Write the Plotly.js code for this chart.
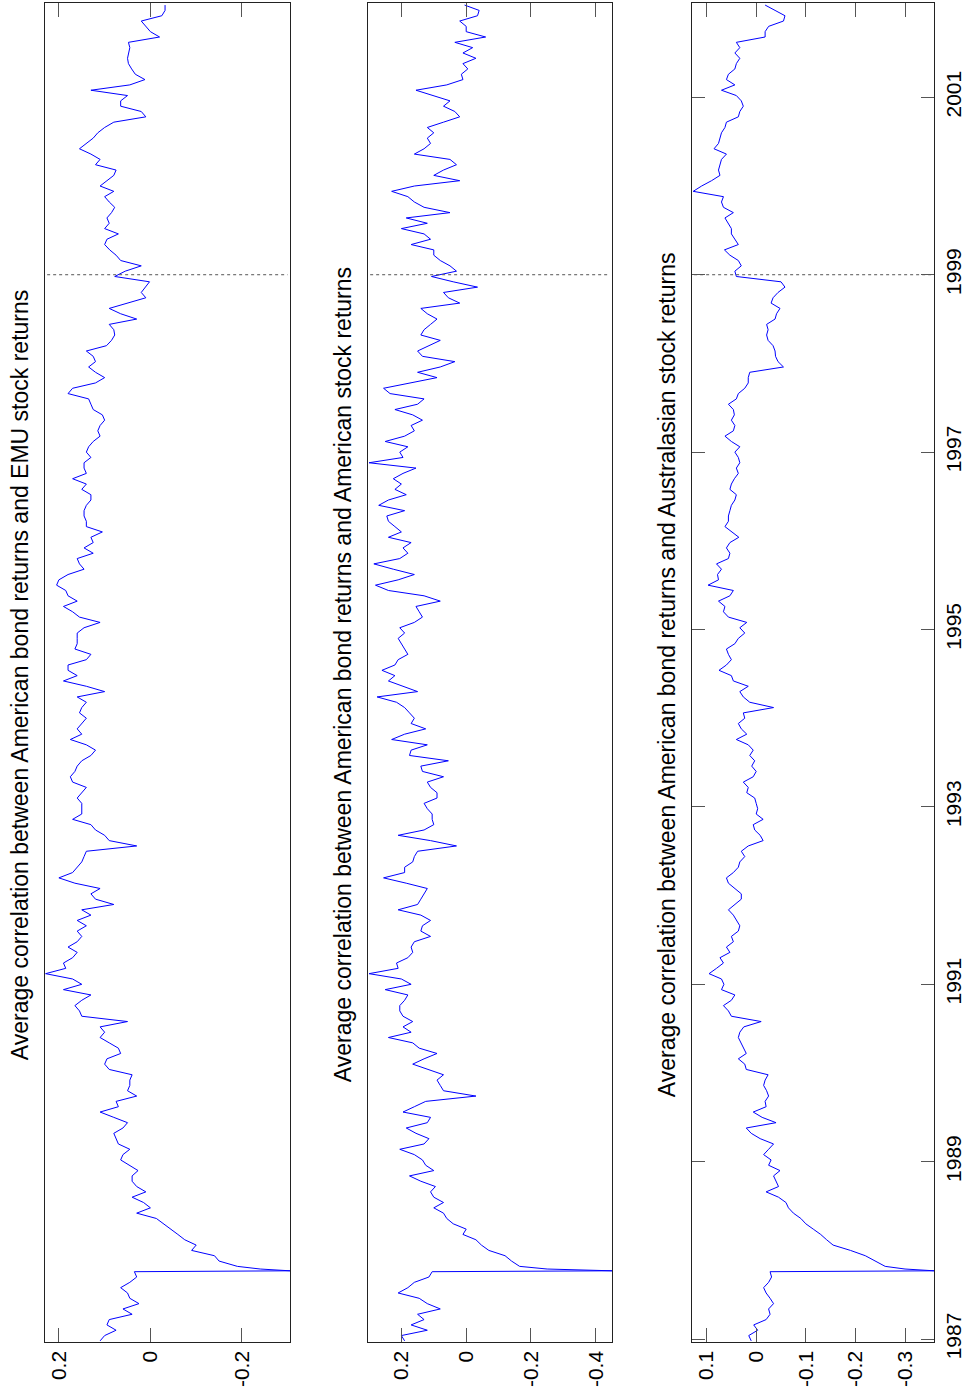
<!DOCTYPE html>
<html>
<head>
<meta charset="utf-8">
<script src="https://cdn.plot.ly/plotly-3.0.1.min.js"></script>
<style>
html, body { margin: 0; padding: 0; background: #fff; overflow: hidden; }
#chart { width: 970px; height: 1396px; }
</style>
</head>
<body>
<div id="chart"></div>
<script>
// Shared time axis (decimal years)
const years = [
 1986.98, 1987.04, 1987.10, 1987.16, 1987.22, 1987.28, 1987.34, 1987.40, 1987.46, 1987.52, 1987.58, 1987.64, 1987.70, 1987.76,
 1987.77, 1987.79,
 1987.82, 1987.88, 1987.94, 1988.00, 1988.06, 1988.12, 1988.18, 1988.24, 1988.30, 1988.36,
 1988.42, 1988.48, 1988.54, 1988.60, 1988.66, 1988.72, 1988.78, 1988.84, 1988.90, 1988.96,
 1989.02, 1989.08, 1989.14, 1989.20, 1989.26, 1989.32, 1989.38, 1989.44, 1989.50, 1989.56,
 1989.62, 1989.68, 1989.74, 1989.80, 1989.86, 1989.92, 1989.98, 1990.04, 1990.10, 1990.16,
 1990.22, 1990.28, 1990.34, 1990.40, 1990.46, 1990.52, 1990.58, 1990.64, 1990.70, 1990.76,
 1990.82, 1990.88, 1990.94, 1991.00, 1991.06, 1991.12, 1991.18, 1991.24, 1991.30, 1991.36,
 1991.42, 1991.48, 1991.54, 1991.60, 1991.66, 1991.72, 1991.78, 1991.84, 1991.90, 1991.96,
 1992.02, 1992.08, 1992.14, 1992.20, 1992.26, 1992.32, 1992.38, 1992.44, 1992.50, 1992.56,
 1992.62, 1992.68, 1992.74, 1992.80, 1992.86, 1992.92, 1992.98, 1993.04, 1993.10, 1993.16,
 1993.22, 1993.28, 1993.34, 1993.40, 1993.46, 1993.52, 1993.58, 1993.64, 1993.70, 1993.76,
 1993.82, 1993.88, 1993.94, 1994.00, 1994.06, 1994.12, 1994.18, 1994.24, 1994.30, 1994.36,
 1994.42, 1994.48, 1994.54,
 1994.60, 1994.66, 1994.72, 1994.78, 1994.84, 1994.90, 1994.96, 1995.02, 1995.08, 1995.14,
 1995.20, 1995.26, 1995.32, 1995.38, 1995.44, 1995.50, 1995.56, 1995.62, 1995.68, 1995.74,
 1995.80, 1995.86, 1995.92, 1995.98, 1996.04, 1996.10, 1996.16, 1996.22, 1996.28, 1996.34,
 1996.40, 1996.46, 1996.52, 1996.58, 1996.64, 1996.70, 1996.76, 1996.82, 1996.88, 1996.94,
 1997.00, 1997.06, 1997.12, 1997.18, 1997.24, 1997.30, 1997.36, 1997.42, 1997.48, 1997.54,
 1997.60, 1997.66, 1997.72, 1997.78, 1997.84, 1997.90, 1997.96, 1998.02, 1998.08, 1998.14,
 1998.20, 1998.26, 1998.32,
 1998.38, 1998.44, 1998.50, 1998.56, 1998.62, 1998.68, 1998.74, 1998.80, 1998.86, 1998.92,
 1998.98, 1999.04, 1999.10, 1999.16, 1999.22, 1999.28, 1999.34, 1999.40, 1999.46, 1999.52,
 1999.58, 1999.64, 1999.70, 1999.76, 1999.82, 1999.88, 1999.94, 2000.00, 2000.06, 2000.12,
 2000.18, 2000.24, 2000.30, 2000.36, 2000.42, 2000.48, 2000.54, 2000.60, 2000.66, 2000.72,
 2000.78, 2000.84, 2000.90, 2000.96, 2001.02, 2001.08, 2001.14, 2001.20, 2001.26, 2001.32,
 2001.38, 2001.44, 2001.50, 2001.56, 2001.62, 2001.68, 2001.74, 2001.80, 2001.86, 2001.92,
 2001.98, 2002.04
];

// Average correlation: American bonds vs EMU stocks
const emuCorr = [
 0.11, 0.10, 0.075, 0.095, 0.09, 0.04, 0.06, 0.025, 0.045, 0.05, 0.065, 0.045, 0.03, 0.035,
 -0.305, -0.24,
 -0.19, -0.15, -0.14, -0.09, -0.10, -0.075, -0.06, -0.045, -0.03, -0.013,
 0.03, 0.0, 0.015, 0.04, 0.01, 0.03, 0.04, 0.04, 0.027, 0.045,
 0.065, 0.06, 0.045, 0.07, 0.075, 0.08, 0.06, 0.05, 0.08, 0.11,
 0.07, 0.075, 0.03, 0.05, 0.045, 0.045, 0.04, 0.09, 0.10, 0.095,
 0.065, 0.07, 0.09, 0.11, 0.10, 0.11, 0.05, 0.15, 0.155, 0.165,
 0.15, 0.13, 0.19, 0.15, 0.17, 0.229, 0.185, 0.19, 0.17, 0.16,
 0.18, 0.16, 0.15, 0.16, 0.14, 0.16, 0.13, 0.15, 0.08, 0.12,
 0.13, 0.11, 0.165, 0.20, 0.17, 0.16, 0.15, 0.145, 0.14, 0.03,
 0.09, 0.10, 0.12, 0.13, 0.17, 0.15, 0.15, 0.15, 0.16, 0.15,
 0.14, 0.17, 0.175, 0.165, 0.16, 0.15, 0.13, 0.12, 0.14, 0.175,
 0.15, 0.16, 0.15, 0.14, 0.155, 0.15, 0.14, 0.16, 0.10, 0.14,
 0.19, 0.16, 0.18,
 0.18, 0.14, 0.13, 0.165, 0.16, 0.16, 0.16, 0.145, 0.11, 0.155,
 0.17, 0.19, 0.16, 0.18, 0.185, 0.205, 0.20, 0.18, 0.145, 0.155,
 0.16, 0.125, 0.145, 0.125, 0.13, 0.105, 0.14, 0.14, 0.145, 0.145,
 0.14, 0.13, 0.13, 0.15, 0.14, 0.17, 0.14, 0.145, 0.145, 0.13,
 0.14, 0.135, 0.125, 0.11, 0.115, 0.11, 0.10, 0.105, 0.125, 0.13,
 0.135, 0.18, 0.17, 0.12, 0.10, 0.12, 0.135, 0.12, 0.125, 0.14,
 0.096, 0.085, 0.078,
 0.08, 0.09, 0.03, 0.065, 0.09, 0.05, 0.01, 0.02, 0.01, 0.002,
 0.078, 0.055, 0.02, 0.065, 0.075, 0.089, 0.10, 0.095, 0.07, 0.10,
 0.09, 0.095, 0.085, 0.078, 0.09, 0.10, 0.08, 0.11, 0.095, 0.08,
 0.075, 0.12, 0.11, 0.13, 0.155, 0.14, 0.125, 0.115, 0.10, 0.08,
 0.01, 0.02, 0.065, 0.065, 0.05, 0.13, 0.045, 0.012, 0.033, 0.041,
 0.048, 0.05, 0.048, 0.045, 0.048, -0.02, 0.0, 0.01, 0.02, -0.025,
 -0.032, -0.032
];

// Average correlation: American bonds vs American stocks
const usCorr = [
 0.19, 0.20, 0.12, 0.17, 0.13, 0.15, 0.08, 0.12, 0.145, 0.21, 0.18, 0.16, 0.115, 0.105,
 -0.451, -0.25,
 -0.165, -0.14, -0.12, -0.07, -0.047, -0.03, 0.01, 0.0, 0.04, 0.06,
 0.07, 0.10, 0.07, 0.10, 0.11, 0.095, 0.14, 0.175, 0.10, 0.125,
 0.135, 0.16, 0.205, 0.13, 0.115, 0.155, 0.185, 0.12, 0.11, 0.195,
 0.16, 0.125, -0.03, 0.07, 0.08, 0.09, 0.07, 0.115, 0.165, 0.13,
 0.09, 0.145, 0.165, 0.24, 0.17, 0.195, 0.165, 0.195, 0.205, 0.205,
 0.19, 0.18, 0.25, 0.17, 0.20, 0.30, 0.21, 0.215, 0.18, 0.165,
 0.17, 0.16, 0.11, 0.14, 0.135, 0.11, 0.14, 0.21, 0.15, 0.14,
 0.13, 0.12, 0.185, 0.255, 0.19, 0.19, 0.165, 0.16, 0.15, 0.03,
 0.11, 0.21, 0.13, 0.10, 0.105, 0.105, 0.12, 0.13, 0.09, 0.09,
 0.11, 0.12, 0.07, 0.135, 0.14, 0.055, 0.175, 0.17, 0.12, 0.23,
 0.19, 0.125, 0.17, 0.16, 0.175, 0.19, 0.215, 0.275, 0.15, 0.195,
 0.24, 0.22, 0.26,
 0.22, 0.21, 0.18, 0.19, 0.20, 0.21, 0.19, 0.205, 0.16, 0.135,
 0.145, 0.155, 0.08, 0.13, 0.24, 0.28, 0.21, 0.16, 0.225, 0.285,
 0.205, 0.18, 0.195, 0.17, 0.24, 0.20, 0.22, 0.24, 0.245, 0.19,
 0.27, 0.24, 0.185, 0.22, 0.20, 0.225, 0.195, 0.155, 0.30, 0.195,
 0.205, 0.18, 0.25, 0.19, 0.16, 0.17, 0.135, 0.165, 0.22, 0.15,
 0.13, 0.235, 0.255, 0.17, 0.09, 0.15, 0.08, 0.035, 0.135, 0.15,
 0.115, 0.08, 0.14,
 0.13, 0.11, 0.09, 0.12, 0.14, 0.02, 0.055, 0.07, -0.035, 0.04,
 0.107, 0.03, 0.05, 0.08, 0.10, 0.10, 0.17, 0.11, 0.13, 0.20,
 0.12, 0.185, 0.05, 0.13, 0.16, 0.18, 0.23, 0.16, 0.02, 0.10,
 0.07, 0.03, 0.05, 0.16, 0.13, 0.11, 0.12, 0.10, 0.12, 0.07,
 0.02, 0.035, 0.07, 0.05, 0.10, 0.155, 0.06, 0.01, 0.015, -0.005,
 0.01, -0.03, 0.01, -0.02, 0.035, -0.06, 0.0, 0.0, 0.02, -0.035,
 -0.04, 0.005
];

// Average correlation: American bonds vs Australasian stocks
const ausCorr = [
 0.01, 0.015, -0.003, 0.005, -0.02, -0.028, -0.025, -0.035, -0.028, -0.02, -0.015, -0.025, -0.031, -0.028,
 -0.359, -0.30,
 -0.26, -0.24, -0.22, -0.19, -0.155, -0.142, -0.13, -0.115, -0.10, -0.09,
 -0.075, -0.065, -0.06, -0.045, -0.02, -0.045, -0.04, -0.035, -0.048, -0.025,
 -0.03, -0.015, -0.025, -0.035, -0.008, 0.01, 0.02, -0.04, -0.012, 0.006,
 -0.02, -0.018, -0.025, -0.021, -0.015, -0.018, -0.024, 0.02, 0.023, 0.036,
 0.02, 0.025, 0.03, 0.036, 0.033, 0.025, -0.01, 0.05, 0.056, 0.066,
 0.05, 0.043, 0.07, 0.065, 0.07, 0.095, 0.08, 0.066, 0.073, 0.053,
 0.06, 0.046, 0.05, 0.036, 0.033, 0.04, 0.046, 0.056, 0.043, 0.03,
 0.03, 0.043, 0.056, 0.06, 0.046, 0.036, 0.033, 0.023, 0.03, 0.016,
 -0.014, -0.008, 0.003, 0.006, -0.014, 0.0, -0.003, 0.0, 0.003, 0.019,
 0.016, 0.026, 0.006, 0.0, 0.009, 0.003, 0.013, 0.006, 0.016, 0.04,
 0.019, 0.03, 0.036, 0.023, 0.026, -0.035, 0.013, 0.026, 0.033, 0.016,
 0.046, 0.05, 0.075,
 0.06, 0.05, 0.056, 0.06, 0.043, 0.036, 0.023, 0.033, 0.019, 0.056,
 0.066, 0.063, 0.076, 0.053, 0.046, 0.097, 0.076, 0.078, 0.07, 0.08,
 0.056, 0.053, 0.06, 0.053, 0.035, 0.05, 0.063, 0.056, 0.056, 0.053,
 0.05, 0.043, 0.04, 0.053, 0.05, 0.044, 0.036, 0.04, 0.033, 0.036,
 0.043, 0.033, 0.05, 0.063, 0.046, 0.043, 0.05, 0.044, 0.046, 0.056,
 0.04, 0.036, 0.023, 0.016, 0.016, 0.013, -0.055, -0.044, -0.039, -0.038,
 -0.034, -0.024, -0.021,
 -0.024, -0.021, -0.038, -0.041, -0.048, -0.03, -0.034, -0.044, -0.058, -0.05,
 0.04, 0.043, 0.03, 0.036, 0.053, 0.064, 0.036, 0.043, 0.05, 0.05,
 0.056, 0.063, 0.046, 0.066, 0.07, 0.066, 0.127, 0.11, 0.09, 0.073,
 0.076, 0.073, 0.07, 0.06, 0.085, 0.076, 0.073, 0.07, 0.063, 0.06,
 0.036, 0.033, 0.026, 0.03, 0.04, 0.07, 0.043, 0.06, 0.056, 0.043,
 0.04, 0.033, 0.043, 0.033, 0.04, -0.018, -0.018, -0.025, -0.055, -0.058,
 -0.038, -0.018
];

const panelTitles = [
 'Average correlation between American bond returns and EMU stock returns',
 'Average correlation between American bond returns and American stock returns',
 'Average correlation between American bond returns and Australasian stock returns'
];

const valueTicks1 = [0.2, 0, -0.2];
const valueTickText1 = ['0.2', '0', '-0.2'];
const valueTicks2 = [0.2, 0, -0.2, -0.4];
const valueTickText2 = ['0.2', '0', '-0.2', '-0.4'];
const valueTicks3 = [0.1, 0, -0.1, -0.2, -0.3];
const valueTickText3 = ['0.1', '0', '-0.1', '-0.2', '-0.3'];
const yearTicks = [1987, 1989, 1991, 1993, 1995, 1997, 1999, 2001];
const yearTickText = ['1987', '1989', '1991', '1993', '1995', '1997', '1999', '2001'];
const euroStart = 1999;

const W = 970, H = 1396;
const FONT = 'Arial, "Liberation Sans", Helvetica, sans-serif';
const panelPx = [[44.7, 290.0], [367.7, 612.3], [691.7, 934.3]];
const valueRanges = [[0.231, -0.305], [0.304, -0.451], [0.130, -0.359]];
const timeRange = [1986.973, 2002.06];
const yDom = [(H - 1341.5) / H, (H - 3.3) / H];

const seriesList = [emuCorr, usCorr, ausCorr];
const tickSets = [[valueTicks1, valueTickText1], [valueTicks2, valueTickText2], [valueTicks3, valueTickText3]];

const data = seriesList.map((s, i) => ({
  type: 'scatter', mode: 'lines',
  x: s, y: years,
  xaxis: i === 0 ? 'x' : 'x' + (i + 1),
  yaxis: i === 0 ? 'y' : 'y' + (i + 1),
  line: { color: '#0000ff', width: 1 },
  hoverinfo: 'skip'
}));

const layout = {
  width: W, height: H,
  margin: { l: 0, r: 0, t: 0, b: 0, pad: 0 },
  paper_bgcolor: '#ffffff', plot_bgcolor: '#ffffff',
  showlegend: false,
  font: { family: FONT, color: '#000000', size: 21 },
  shapes: [], annotations: []
};

for (let i = 0; i < 3; i++) {
  const xs = i === 0 ? '' : String(i + 1);
  layout['xaxis' + xs] = {
    domain: [panelPx[i][0] / W, panelPx[i][1] / W],
    range: valueRanges[i], autorange: false,
    anchor: 'y' + xs,
    tickmode: 'array', tickvals: tickSets[i][0], ticktext: tickSets[i][1],
    ticks: 'inside', ticklen: 14, tickwidth: 1, tickcolor: '#555555',
    showline: true, linecolor: '#222222', linewidth: 1, mirror: 'ticks',
    showgrid: false, zeroline: false, tickangle: -90,
    tickfont: { family: FONT, size: 21, color: '#000000' },
    fixedrange: true
  };
  const yax = {
    domain: yDom, range: timeRange, autorange: false,
    anchor: 'x' + xs,
    showline: true, linecolor: '#222222', linewidth: 1, mirror: true,
    showgrid: false, zeroline: false, fixedrange: true,
    ticks: '', showticklabels: false
  };
  if (i === 2) {
    Object.assign(yax, {
      side: 'right', mirror: 'ticks',
      tickmode: 'array', tickvals: yearTicks, ticktext: yearTickText,
      ticks: 'inside', ticklen: 13, tickwidth: 1, tickcolor: '#555555',
      showticklabels: true, tickangle: -90,
      tickfont: { family: FONT, size: 21, color: '#000000' }
    });
  }
  layout['yaxis' + xs] = yax;

  layout.shapes.push({
    type: 'line', xref: 'x' + xs + ' domain', yref: 'y' + xs,
    x0: 0.01, x1: 0.99, y0: euroStart, y1: euroStart,
    line: { color: '#555555', width: 1, dash: 'dot' }
  });

  layout.annotations.push({
    text: panelTitles[i], showarrow: false, textangle: -90,
    xref: 'paper', yref: 'paper',
    x: (panelPx[i][0] - 24.5) / W, y: (H - 675) / H,
    xanchor: 'center', yanchor: 'middle',
    font: { family: FONT, size: 23, color: '#000000' }
  });
}

Plotly.newPlot('chart', data, layout, { staticPlot: true, displayModeBar: false });
</script>
</body>
</html>
